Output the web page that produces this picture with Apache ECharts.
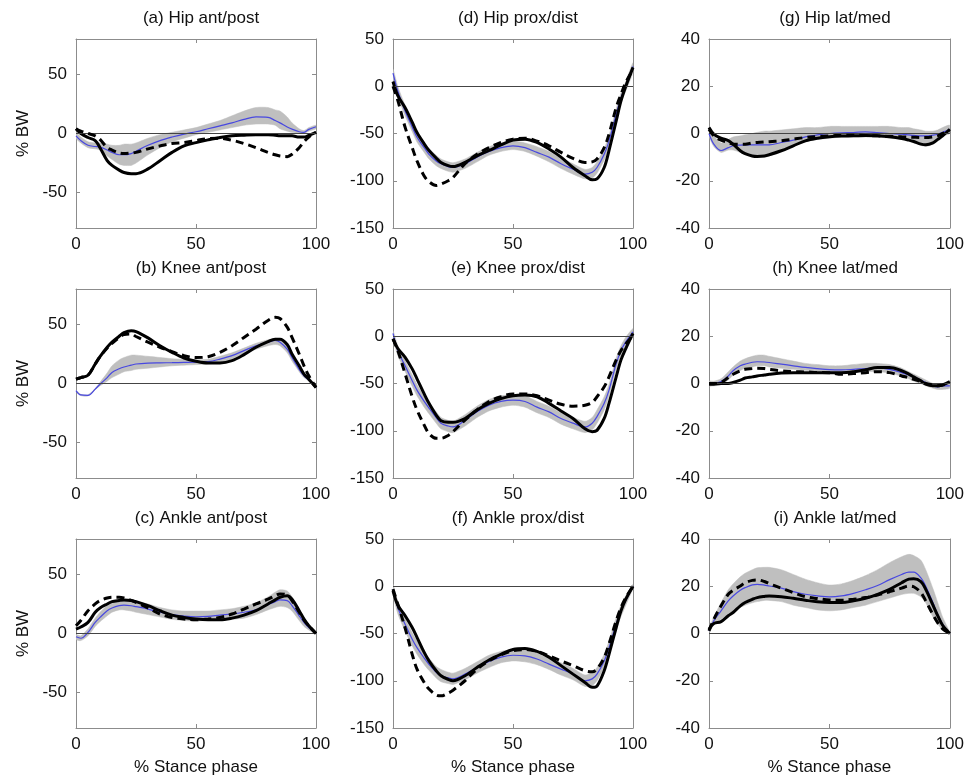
<!DOCTYPE html>
<html><head><meta charset="utf-8">
<script src="https://cdn.jsdelivr.net/npm/echarts@6/dist/echarts.min.js"></script>
<style>html,body{margin:0;padding:0;background:#fff}#c{width:967px;height:781px}</style>
</head><body><div id="c"></div>
<script>
// % stance phase sample points
const X = [0,2,5,8,10,13,15,18,20,23,25,30,35,40,45,50,55,60,65,70,75,80,83,85,88,90,93,95,97,100];

const TITLES = ['(a) Hip ant/post','(b) Knee ant/post','(c) Ankle ant/post',
                '(d) Hip prox/dist','(e) Knee prox/dist','(f) Ankle prox/dist',
                '(g) Hip lat/med','(h) Knee lat/med','(i) Ankle lat/med'];
const X_TICKS = [0,50,100];
const Y_TICKS = [[-50,0,50],[-150,-100,-50,0,50],[-40,-20,0,20,40]];
const Y_MIN = [-80,-150,-40];
const Y_MAX = [80,50,40];
const Y_NAME = '% BW';
const X_NAME = '% Stance phase';

// (a) Hip ant/post
const a_lo = [-4,-8,-12,-13,-14,-19,-22,-26,-27,-27,-25,-18,-12,-7,-4,-1,1,3,5,7,8,8,7,4,2,1,0,0,2,4];
const a_hi = [1,-3,-7,-8,-8,-9,-10,-10,-9,-9,-8,-4,-1,1,3,5,8,11,15,19,22,22,20,19,14,9,4,2.5,5,7];
const a_mean = [-2,-6,-10,-11,-11.5,-14,-16,-18,-18,-17,-15,-10,-6,-3,-0.5,1.5,4,6.5,9,12,14,13.6,11,9,5.5,3.7,1.5,1,3.5,5.7];
const a_solid = [4,0,-3.4,-6,-12,-23,-27,-31,-33,-34,-34,-30,-23,-16,-10.5,-7.7,-5.4,-3.4,-2,-1.4,-1,-1,-1.5,-2,-2,-2,-3,-3,-1.5,1];
const a_dashed = [4,2,0,-2,-5,-12,-14,-16.5,-17,-16.5,-16,-13,-10.5,-8.5,-7.7,-6,-4.3,-4,-5.7,-8.5,-12,-16,-18,-19,-19.6,-17.6,-12,-7,-3,1];

// (b) Knee ant/post
const b_lo = [-6.5,-10.2,-10.5,-5.3,-2,2,5,8,10,11,12,13,14,15,15.5,16,16.5,18,21,25,29,32,33,32,26,19,10,5,2,-4];
const b_hi = [-5.5,-9.2,-9.5,-4.3,1,9,15,20,22,24,24,23,22,21,20.5,20,20.5,23,26,30,34,37,38,37,32,25,15,8,4,-3];
const b_mean = [-6,-9.7,-10,-4.8,-0.6,5,9.4,12.5,14,15.5,16.5,17.3,17.5,17.6,17.8,18,18.5,20.7,23.6,27.8,32,35,36.4,35,29,22,12,6.5,2.8,-3.4];
const b_solid = [3.7,5,7,16.5,22.7,30.7,35,40,43,44.7,44,38.6,32,26.4,21.6,18.8,17.3,17.3,19.3,24.4,30.7,35.5,37.5,37.5,33,25,15,8,3.7,-3.4];
const b_dashed = [3.7,5,7,16.5,22.7,30,34,39,41.5,42,39.8,35,30.7,27,23.6,22,22.7,26.4,32,39,46,53.4,56,55,47.7,39,25,15,6.5,-3.4];

// (c) Ankle ant/post
const c_lo = [-5,-6,-2,6,10,15,18,20,20,19,18,16,14,12,11,10.5,11,11,12,13,16,20,22,23,22,19,11,6,3,-0.5];
const c_hi = [-1,-2,4,13,18,24,27,28,28,28,27,25,22,20,19,19,19,20,21,23,26,31,35,37,36,31,21,13,7,0.5];
const c_mean = [-2.8,-4,1,9.4,13.6,19.3,21.6,23.6,24,23.5,22.7,20.7,18,16,14.8,14.2,14.5,15.6,16.5,18,20,24.4,27,28.4,27.8,23.6,15,9.4,5,0];
const c_solid = [3.7,5.5,9.4,18,21.6,25,27,28,28.4,28,27,23.6,19.3,15.6,13.6,12.2,11.6,11.6,13,15.6,19.3,25,28.5,30.7,32,29,19.3,12.2,6.5,0];
const c_dashed = [6.5,11,19.3,25,27.8,30,30.7,30.7,30,28,26.4,21.6,16.5,13.6,12.2,11.6,12.2,13.6,16.5,20.7,25,29,32,33.5,32.5,27.8,18,11.4,6.5,0];

// (d) Hip prox/dist
const d_lo = [8,-10,-31,-48,-59,-70,-77,-84,-87,-90,-91,-87,-80,-73,-69,-67,-69,-74,-80,-87,-93,-98,-97,-92,-78,-64,-35,-17,-5,15];
const d_hi = [18,0,-20,-37,-48,-59,-66,-73,-77,-80,-81,-77,-70,-64,-60,-58,-60,-64,-69,-76,-82,-88,-86,-80,-66,-52,-24,-7,5,25];
const d_mean = [14,-5,-26,-43,-54,-65,-72,-79,-82,-85,-86,-82,-75,-69,-65,-63,-65,-70,-75,-82,-87.7,-93,-91,-86,-72,-58,-29.6,-12,0,21];
const d_solid = [5,-10,-22.5,-38,-49,-61,-68,-76,-80.6,-84,-85,-80.6,-73.6,-68,-62,-57,-56,-59.5,-66.5,-75,-86,-94.7,-99,-98,-86,-68,-36.6,-15.5,0,20];
const d_dashed = [0,-15,-43,-65,-79,-95,-101,-105,-103.5,-100,-96.5,-82,-72,-65,-59.5,-56,-55,-58,-63,-70,-76.4,-80.6,-80,-77,-65,-50.7,-22.5,-8.5,4,18];

// (e) Knee prox/dist
const e_lo = [-2,-20,-37,-53,-63,-75,-82,-92,-98,-101,-102,-95,-86,-79,-75,-73,-75,-81,-86,-93,-98,-102,-99,-92,-78,-63,-35,-20,-11,0];
const e_hi = [6,-10,-25,-41,-51,-63,-70,-80,-86,-89,-90,-83,-74,-67,-63,-62,-63,-69,-74,-81,-86,-90,-86,-78,-64,-51,-23,-10,-1,8];
const e_mean = [3,-15,-31,-47,-57,-69,-76,-86,-92,-95,-96,-89,-80,-73,-69,-67.6,-69,-75,-80,-87,-92,-96,-92,-85,-71,-57,-29,-15,-6,4.6];
const e_solid = [-3,-13,-22,-34.5,-45,-61,-71,-83.5,-89.4,-91,-91,-87,-78,-71,-66,-63,-62.3,-64,-71,-79,-87,-98,-101,-99.6,-87,-71,-43,-25,-13,3];
const e_dashed = [-2.5,-15,-39.4,-64,-78,-94,-103,-108,-108,-105,-101,-88.7,-78,-69,-64,-61,-61,-63,-67.6,-72,-74,-73,-70,-64,-53.5,-43,-25,-15,-8,1];

// (f) Ankle prox/dist
const f_lo = [-8,-29,-47,-63,-72,-83,-89,-97,-101,-103,-104,-99,-92,-86,-81,-79,-80,-83,-88,-94,-99,-106,-105,-100,-86,-72,-47,-32,-20,-2];
const f_hi = [2,-16,-33,-49,-58,-69,-76,-85,-88,-91,-92,-87,-80,-73,-69,-67,-67,-71,-76,-81,-87,-94,-91,-86,-72,-58,-33,-20,-10,2];
const f_mean = [-3,-22.5,-40,-56,-65,-76,-82.7,-91,-94.7,-97,-98,-93,-86,-79.6,-75,-73,-73.6,-77,-82.4,-87.7,-93,-100,-98,-93,-79,-65,-40,-26,-15,0];
const f_solid = [-5,-20,-31,-43.7,-54,-70,-79,-89.4,-94.7,-98.5,-100,-94.7,-86,-78,-72,-67,-66,-69,-75,-84,-93,-101.8,-107,-105.6,-89.4,-72,-43.7,-26,-13.7,0];
const f_dashed = [-3,-19,-43.7,-72,-87.7,-101.8,-108.8,-115,-116,-113,-110,-100,-87.7,-79,-72.5,-68.3,-67,-69,-73.6,-79,-84,-89.4,-90.5,-87.7,-75.4,-61,-36.6,-22.5,-12,0];

// (g) Hip lat/med
const g_lo = [-1,-5.5,-8,-7,-7,-8,-9,-10,-10,-10,-9.5,-7.5,-5.5,-3.5,-2.5,-2,-1.5,-1.5,-1.5,-1.5,-2,-2.5,-3,-3.5,-5,-5.5,-4.5,-3,-1,0];
const g_hi = [2,-1,-4,-2.5,-1.5,-1,-0.5,0,0.5,1,1,1.5,2,2.5,2.5,3,3,3,3,3,3,2.5,2.5,2,1.5,1,1,1.5,2.5,3.5];
const g_mean = [0,-4.5,-7.2,-6,-5.2,-4.9,-4.8,-4.8,-4.8,-4.8,-4.8,-3.8,-2.8,-1.4,-0.6,0,0.3,0.4,0.7,0.4,0,-0.3,-0.6,-0.8,-1,-1,-0.7,-0.3,0.5,1.8];
const g_solid = [2.5,-0.3,-2,-3,-4.5,-7.3,-8.5,-9.5,-9.7,-9.5,-9,-7.3,-5.2,-3.1,-2,-1.4,-1.1,-1,-0.8,-1,-1.4,-2.1,-2.8,-3.4,-4.5,-4.8,-4,-2.5,-1,1.8];
const g_dashed = [1.8,-1,-2.8,-3.8,-4.5,-4.5,-4.5,-4,-3.8,-3.6,-3.5,-3.1,-2.4,-1.7,-1.3,-1,-0.8,-0.7,-0.8,-1,-1.2,-1.4,-1.5,-1.6,-1.7,-1.7,-1.4,-1,0,1.1];

// (h) Knee lat/med
const h_lo = [-1,-1,-0.5,1.5,3.5,5.5,6.5,7,7.5,7.5,7,6.5,6,5.5,5,4.5,4.5,4.5,5,5,4.5,3,2,1,0,-1,-2,-2.5,-2.5,-2];
const h_hi = [1,1,2,5,7,9.5,10.5,11.5,12,12,11.5,10.5,9.5,8.5,8,7.5,7.5,8,8.5,8.5,8,6.5,5,4,2.5,1.5,0,-0.5,0,0];
const h_mean = [0,0,0.8,3.2,5.4,7.5,8.2,9,9.2,9.1,8.9,8.2,7.5,6.8,6.3,5.9,5.8,6,6.3,6.5,6,4.6,3.5,2.8,1.4,0.4,-1,-1.4,-1,-1];
const h_solid = [-0.3,-0.3,0,0,0.4,1.4,2.3,2.8,3.2,3.6,3.9,4.4,4.6,4.6,4.6,4.6,4.6,5,5.8,6.8,6.8,5.4,4,2.8,1.1,-0.3,-1,-1,-0.6,0.8];
const h_dashed = [0,0,0.4,2.5,3.9,5.4,6,6.3,6.5,6.3,6,5.4,5,4.9,4.7,4.6,3.9,4.2,4.6,5,4.6,3.2,2.4,1.8,0.8,0,-0.6,-1,-0.6,0];

// (i) Ankle lat/med
const i_lo = [0.5,3.5,6,8,9.5,11,12,13,13.5,14,14,13.5,12,11,10,9.6,10,11,12,13.5,15,16.5,17,17,15.5,13,7,4,1.5,-0.5];
const i_hi = [2,7,13,18.5,21,24,25.5,27,27.8,28,28,27,25,23,21.5,20.5,21,22.5,24.5,27,30,32.5,33.5,33,31,27,19,13,7,0.5];
const i_mean = [1.1,5.4,9.6,13.8,15.9,18.3,19.4,20.6,20.8,20.5,20.1,19.2,17.7,16.6,15.9,15.5,15.9,17,18.5,20.3,22.8,25,26,26,23.5,20,13,8,4,0];
const i_solid = [1.8,4.2,5,7.5,8.9,11.7,13.1,14.5,15.2,15.7,15.9,15.6,14.9,14.1,13.4,13.1,13.1,13.8,14.9,16.6,18.7,21.5,23,23.2,22,18.7,12,7.5,3.5,0];
const i_dashed = [1.1,6,11.7,16.6,18.3,20.1,21.5,22.5,22.7,22,21.1,19.2,17.3,15.6,14.8,14.2,14.1,14.5,15.2,16.3,17.7,19.2,20.1,19.8,17.3,13.8,8,4.5,2,0];

const PANELS = [
  [a_lo,a_hi,a_mean,a_solid,a_dashed],[b_lo,b_hi,b_mean,b_solid,b_dashed],[c_lo,c_hi,c_mean,c_solid,c_dashed],
  [d_lo,d_hi,d_mean,d_solid,d_dashed],[e_lo,e_hi,e_mean,e_solid,e_dashed],[f_lo,f_hi,f_mean,f_solid,f_dashed],
  [g_lo,g_hi,g_mean,g_solid,g_dashed],[h_lo,h_hi,h_mean,h_solid,h_dashed],[i_lo,i_hi,i_mean,i_solid,i_dashed]
];

// layout (styles)
const COL_LEFT = [76, 393, 709];
const COL_W = [240, 240, 242];
const ROW_TOP = [39, 289, 539];
const ROW_H = 189;
const FONT = 'Liberation Sans, Arial, sans-serif';
const BOX = '#8c8c8c';

const chart = echarts.init(document.getElementById('c'));
const grids = [], xAxes = [], yAxes = [], series = [], titles = [];
const pair = arr => X.map((x, k) => [x, arr[k]]);

// gray range band: polygon through upper edge then lower edge, placed via the axis scales
function bandItem(params, api) {
  if (params.dataIndexInside !== 0) return null;
  const n = params.dataInsideLength;
  const up = [], dn = [];
  for (let k = 0; k < n; k++) {
    up.push(api.coord([api.value(0, k), api.value(2, k)]));
    dn.push(api.coord([api.value(0, k), api.value(1, k)]));
  }
  const cs = params.coordSys;
  return {
    type: 'polygon',
    shape: {points: up.concat(dn.reverse()), smooth: 0.25},
    style: {fill: '#bfbfbf', stroke: '#bfbfbf', lineWidth: 0.5},
    clipPath: {type: 'rect', shape: {x: cs.x, y: cs.y, width: cs.width, height: cs.height}}
  };
}

PANELS.forEach((p, n) => {
  const col = Math.floor(n / 3), row = n % 3;
  grids.push({left: COL_LEFT[col], top: ROW_TOP[row], width: COL_W[col], height: ROW_H, containLabel: false});
  titles.push({text: TITLES[n], left: COL_LEFT[col] + COL_W[col] / 2, top: ROW_TOP[row] - 34, textAlign: 'center',
    textStyle: {fontFamily: FONT, fontSize: 17, fontWeight: 'normal', color: '#111'}});
  const axLine = {show: true, onZero: false, lineStyle: {color: BOX, width: 1}};
  const tick = vals => ({show: true, inside: true, length: 4, customValues: vals, lineStyle: {color: BOX}});
  xAxes.push({gridIndex: n, type: 'value', min: 0, max: 100, position: 'bottom',
    axisLine: axLine, axisTick: tick(X_TICKS), splitLine: {show: false},
    axisLabel: {customValues: X_TICKS, margin: 8, fontFamily: FONT, fontSize: 17, color: '#111'},
    name: row === 2 ? X_NAME : '', nameLocation: 'middle', nameGap: 31,
    nameTextStyle: {fontFamily: FONT, fontSize: 17, color: '#111'}});
  xAxes.push({gridIndex: n, type: 'value', min: 0, max: 100, position: 'top',
    axisLine: axLine, axisTick: tick(X_TICKS), splitLine: {show: false}, axisLabel: {show: false}});
  yAxes.push({gridIndex: n, type: 'value', min: Y_MIN[col], max: Y_MAX[col], position: 'left',
    axisLine: axLine, axisTick: tick(Y_TICKS[col]), splitLine: {show: false},
    axisLabel: {customValues: Y_TICKS[col], margin: 9, fontFamily: FONT, fontSize: 17, color: '#111'},
    name: col === 0 ? Y_NAME : '', nameLocation: 'middle', nameGap: 44,
    nameTextStyle: {fontFamily: FONT, fontSize: 17, color: '#111'}});
  yAxes.push({gridIndex: n, type: 'value', min: Y_MIN[col], max: Y_MAX[col], position: 'right',
    axisLine: axLine, axisTick: tick(Y_TICKS[col]), splitLine: {show: false}, axisLabel: {show: false}});

  const [lo, hi, mean, solid, dashed] = p;
  const xi = 2 * n, yi = 2 * n;
  const base = {type: 'line', xAxisIndex: xi, yAxisIndex: yi, symbol: 'none', smooth: 0.35, silent: true, animation: false};
  series.push({type: 'custom', xAxisIndex: xi, yAxisIndex: yi, silent: true, animation: false, z: 1,
    renderItem: bandItem, data: X.map((x, k) => [x, lo[k], hi[k]]), encode: {x: 0, y: [1, 2]}});
  series.push(Object.assign({}, base, {data: pair(mean), lineStyle: {color: '#4848e0', width: 1.2}, z: 3,
    markLine: {silent: true, symbol: ['none', 'none'], label: {show: false},
      lineStyle: {color: '#444', width: 1, type: 'solid'}, data: [{yAxis: 0}], animation: false}}));
  series.push(Object.assign({}, base, {data: pair(solid), lineStyle: {color: '#000', width: 3}, z: 4}));
  series.push(Object.assign({}, base, {data: pair(dashed), lineStyle: {color: '#000', width: 3, type: [8, 5]}, z: 5}));
});

chart.setOption({animation: false, title: titles, grid: grids, xAxis: xAxes, yAxis: yAxes, series: series});
</script></body></html>
